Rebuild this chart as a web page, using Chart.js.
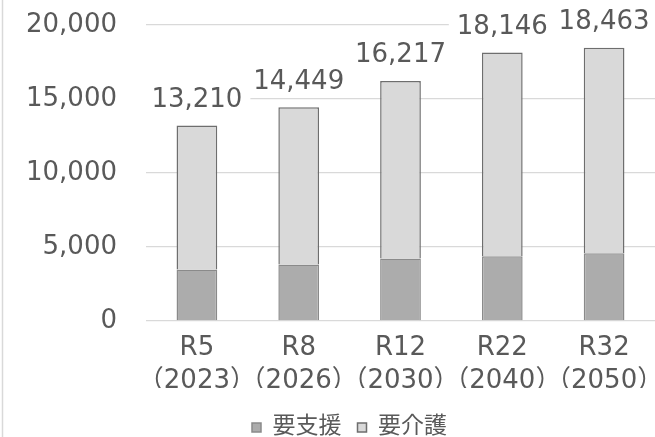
<!DOCTYPE html>
<html>
<head>
<meta charset="utf-8">
<script src="https://cdn.jsdelivr.net/npm/chart.js@4"></script>
<style>
  body { margin: 0; background: #fff; }
  canvas { display: block; }
</style>
</head>
<body>
<canvas id="chart" width="655" height="437"></canvas>
<script>
const categories = [["R5", "（2023）"], ["R8", "（2026）"], ["R12", "（2030）"], ["R22", "（2040）"], ["R32", "（2050）"]];
const seriesNames = ["要支援", "要介護"];
const support = [3480, 3815, 4220, 4376, 4580];
const care = [9730, 10634, 11997, 13770, 13883];
const totals = [13210, 14449, 16217, 18146, 18463];
const yTicks = [0, 5000, 10000, 15000, 20000];

const FONT = "'DejaVu Sans', 'Noto Sans CJK JP', sans-serif";
const TEXT = "#595959";

function fmt(v) {
  return v.toLocaleString("en-US");
}

// total labels on a white box, like the data labels in the original
const totalLabels = {
  id: "totalLabels",
  afterDatasetsDraw(chart) {
    const ctx = chart.ctx;
    const meta = chart.getDatasetMeta(chart.data.datasets.length - 1);
    ctx.save();
    ctx.font = "26px " + FONT;
    ctx.textAlign = "center";
    ctx.textBaseline = "alphabetic";
    meta.data.forEach(function(bar, i) {
      const text = fmt(totals[i]);
      const w = ctx.measureText(text).width;
      const base = bar.y - 18.5;
      ctx.fillStyle = "#fff";
      ctx.fillRect(bar.x - w / 2 - 8, base - 27, w + 16, 36);
      ctx.fillStyle = TEXT;
      ctx.fillText(text, bar.x, base);
    });
    ctx.restore();
  }
};

const frame = {
  id: "frame",
  afterLayout(chart) {
    const lg = chart.legend;
    lg.left += 22;
    lg.right += 22;
    lg.top += 12;
    lg.bottom += 12;
  },
  beforeDraw(chart) {
    const ctx = chart.ctx;
    ctx.save();
    ctx.strokeStyle = "#d9d9d9";
    ctx.lineWidth = 1.5;
    ctx.beginPath();
    ctx.moveTo(2.5, 0);
    ctx.lineTo(2.5, chart.height);
    ctx.stroke();
    ctx.restore();
  }
};

new Chart(document.getElementById("chart"), {
  type: "bar",
  data: {
    labels: categories,
    datasets: [
      {
        label: seriesNames[0],
        data: support,
        backgroundColor: "#acacac",
        borderColor: "#8a8a8a",
        borderWidth: 1.5
      },
      {
        label: seriesNames[1],
        data: care,
        backgroundColor: "#d9d9d9",
        borderColor: "#6e6e6e",
        borderWidth: 1.5
      }
    ]
  },
  options: {
    responsive: false,
    animation: false,
    events: [],
    layout: { padding: { top: 25, left: 0, right: 0, bottom: 0 } },
    datasets: { bar: { categoryPercentage: 1, barPercentage: 0.4 } },
    scales: {
      x: {
        stacked: true,
        grid: { display: false, drawTicks: false },
        border: { display: false },
        ticks: {
          color: TEXT,
          font: { family: FONT, size: 26, lineHeight: 1.27 },
          padding: 11,
          autoSkip: false,
          maxRotation: 0
        },
        afterFit(scale) {
          scale.paddingLeft = 0;
          scale.paddingRight = 0;
          scale.height = 67;
        }
      },
      y: {
        stacked: true,
        min: 0,
        max: 20000,
        afterBuildTicks(scale) {
          scale.ticks = yTicks.map(v => ({ value: v }));
        },
        grid: { color: "#d9d9d9", lineWidth: 1.3, drawTicks: false },
        border: { display: false },
        ticks: {
          color: TEXT,
          font: { family: FONT, size: 26 },
          padding: 29,
          callback: v => fmt(v)
        },
        afterFit(scale) {
          scale.width = 146;
          scale.paddingTop = 0;
          scale.paddingBottom = 0;
        }
      }
    },
    plugins: {
      legend: {
        position: "bottom",
        labels: {
          color: TEXT,
          font: { family: FONT, size: 23 },
          boxWidth: 9,
          boxHeight: 9,
          padding: 16
        }
      },
      tooltip: { enabled: false }
    }
  },
  plugins: [totalLabels, frame]
});
</script>
</body>
</html>
